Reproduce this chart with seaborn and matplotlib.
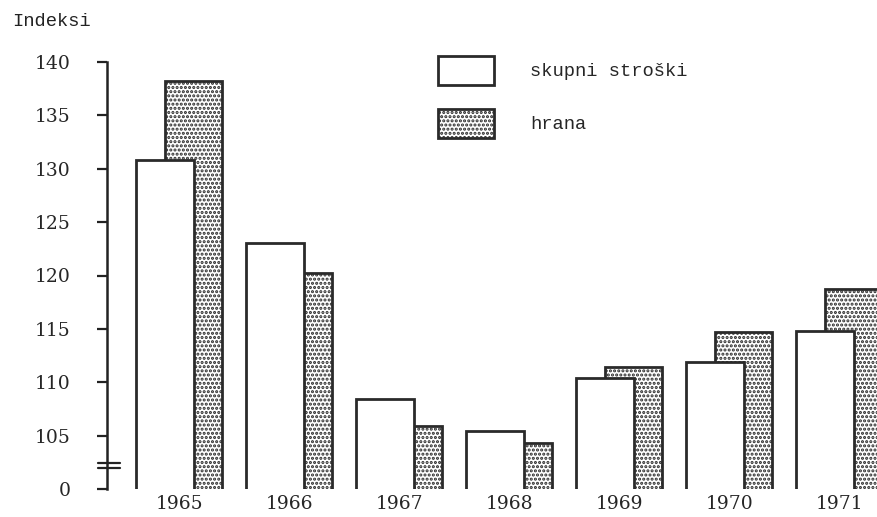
import numpy as np
import pandas as pd
import seaborn as sns
import matplotlib.pyplot as plt
from matplotlib.patches import Patch

years = [1965, 1966, 1967, 1968, 1969, 1970, 1971]
skupni_stroski = [130.8, 123.0, 108.4, 105.4, 110.4, 111.9, 114.8]
hrana = [138.2, 120.2, 105.9, 104.3, 111.4, 114.7, 118.7]
y_ticks = [100, 105, 110, 115, 120, 125, 130, 135, 140]
y_tick_labels = ["0", "105", "110", "115", "120", "125", "130", "135", "140"]

bar_w = 0.52
shift = 0.26

sns.set_theme(style="white")
plt.rcParams["font.family"] = ["DejaVu Serif"]
plt.rcParams["hatch.linewidth"] = 1.5
plt.rcParams["hatch.color"] = "#1e1e1e"

df = pd.DataFrame({"leto": years, "skupni": skupni_stroski, "hrana": hrana})
df["leto_h"] = df["leto"] + shift

fig = plt.figure(figsize=(8.77, 5.17), dpi=100)
ax = fig.add_axes([107 / 877, 1 - 489 / 517, 1 - 107 / 877, 427 / 517])

# hatched bars behind, white bars in front
sns.barplot(data=df, x="leto_h", y="hrana", native_scale=True, width=bar_w,
            color="white", edgecolor="#2a2a2a", linewidth=2.0, hatch="....",
            ax=ax, zorder=2)
sns.barplot(data=df, x="leto", y="skupni", native_scale=True, width=bar_w,
            color="white", edgecolor="#2a2a2a", linewidth=2.0,
            ax=ax, zorder=3)
for p in ax.patches:
    p.set_facecolor("white")

ax.set_xlim(years[0] - 0.527, years[0] + 6.473)
ax.set_ylim(100, 140)
ax.set_xlabel("")
ax.set_ylabel("")

ax.set_yticks(y_ticks)
ax.set_yticklabels(y_tick_labels, fontsize=13.5)
ax.set_xticks([y + shift / 2 for y in years])
ax.set_xticklabels([str(y) for y in years], fontsize=13.5)
ax.tick_params(axis="y", direction="out", length=7.2, width=1.6,
               color="#222222", pad=19, left=True)
ax.tick_params(axis="x", length=0, pad=4)

for s in ["top", "right", "bottom"]:
    ax.spines[s].set_visible(False)
ax.spines["left"].set_color("#222222")
ax.spines["left"].set_linewidth(1.8)

# axis break marks
for yy in [0.062, 0.049]:
    ax.plot([-0.012, 0.017], [yy, yy], transform=ax.transAxes,
            color="#222222", lw=1.6, clip_on=False)

fig.text(12 / 877, 1 - 21 / 517, "Indeksi", fontsize=13.5,
         family="Liberation Mono", va="center", ha="left", color="#222222")

handles = [
    Patch(facecolor="white", edgecolor="#2a2a2a", linewidth=2.0, label="skupni stroški"),
    Patch(facecolor="white", edgecolor="#2a2a2a", linewidth=2.0, hatch="....", label="hrana"),
]
ax.legend(handles=handles, loc="upper left", frameon=False,
          bbox_to_anchor=(438 / 877, 1 - 56 / 517), bbox_transform=fig.transFigure,
          borderpad=0, borderaxespad=0, handlelength=3.0, handleheight=2.0,
          labelspacing=1.28, handletextpad=1.9,
          prop={"family": "Liberation Mono", "size": 13.5})

plt.savefig("out.png", dpi=100)
